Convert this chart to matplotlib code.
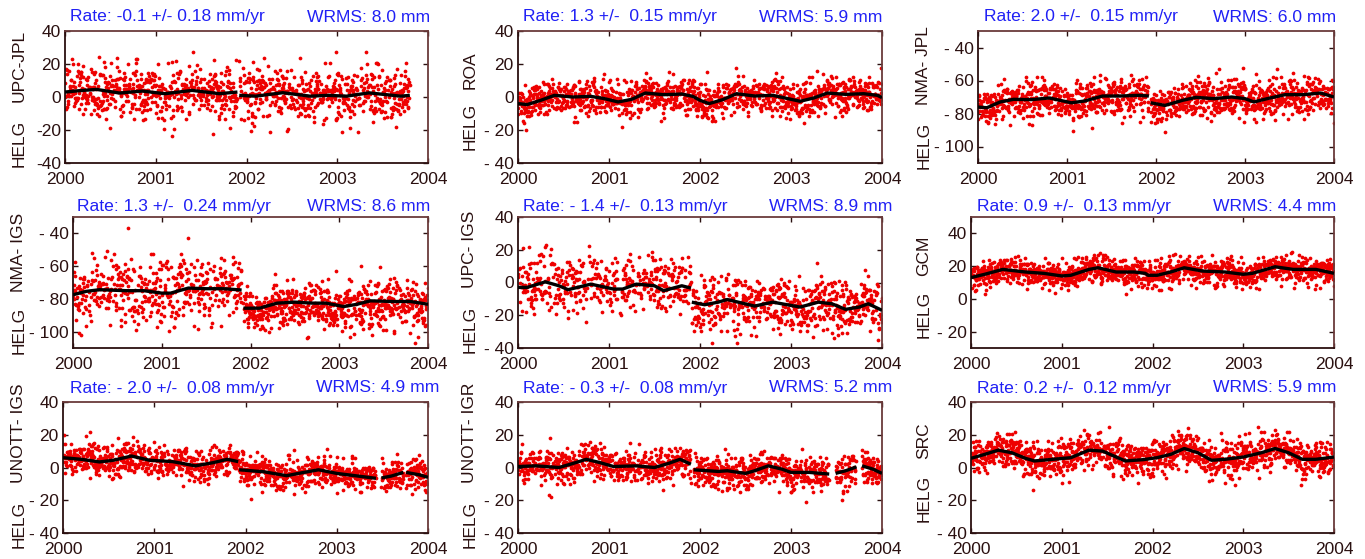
import numpy as np
import matplotlib
matplotlib.use("Agg")
import matplotlib.pyplot as plt

plt.rcParams['font.family'] = ['Liberation Sans', 'DejaVu Sans']

# ---------------- data ----------------
YEARS = [2000, 2001, 2002, 2003, 2004]
YEAR_LABELS = ["2000", "2001", "2002", "2003", "2004"]

NAMES = ["UPC-JPL", "ROA", "NMA- JPL", "NMA- IGS", "UPC- IGS", "GCM",
         "UNOTT- IGS", "UNOTT- IGR", "SRC"]
RATES = ["Rate: -0.1 +/- 0.18 mm/yr", "Rate: 1.3 +/-  0.15 mm/yr",
         "Rate: 2.0 +/-  0.15 mm/yr", "Rate: 1.3 +/-  0.24 mm/yr",
         "Rate: - 1.4 +/-  0.13 mm/yr", "Rate: 0.9 +/-  0.13 mm/yr",
         "Rate: - 2.0 +/-  0.08 mm/yr", "Rate: - 0.3 +/-  0.08 mm/yr",
         "Rate: 0.2 +/-  0.12 mm/yr"]
WRMS = ["WRMS: 8.0 mm", "WRMS: 5.9 mm", "WRMS: 6.0 mm", "WRMS: 8.6 mm",
        "WRMS: 8.9 mm", "WRMS: 4.4 mm", "WRMS: 4.9 mm", "WRMS: 5.2 mm",
        "WRMS: 5.9 mm"]

YLIMS = [(-40, 40), (-40, 40), (-110, -30), (-110, -30), (-40, 40),
         (-30, 50), (-40, 40), (-40, 40), (-40, 40)]
YTICKS = [[-40, -20, 0, 20, 40], [-40, -20, 0, 20, 40], [-100, -80, -60, -40],
          [-100, -80, -60, -40], [-40, -20, 0, 20, 40], [-20, 0, 20, 40],
          [-40, -20, 0, 20, 40], [-40, -20, 0, 20, 40], [-40, -20, 0, 20, 40]]
YTICKLABELS = [["-40", "-20", "0", "20", "40"],
               ["- 40", "- 20", "0", "20", "40"],
               ["- 100", "- 80", "- 60", "- 40"],
               ["- 100", "- 80", "- 60", "- 40"],
               ["- 40", "- 20", "0", "20", "40"],
               ["- 20", "0", "20", "40"],
               ["- 40", "- 20", "0", "20", "40"],
               ["- 40", "- 20", "0", "20", "40"],
               ["- 40", "- 20", "0", "20", "40"]]

# smoothed (black) curve, per panel, per continuous segment: epochs and values (mm)
P1_T = [[2000.0, 2000.15, 2000.35, 2000.6, 2000.85, 2001.1, 2001.4, 2001.7, 2001.9],
        [2001.92, 2002.1, 2002.4, 2002.7, 2002.9, 2003.1, 2003.35, 2003.7, 2003.8]]
P1_Y = [[3.0, 3.8, 4.6, 2.4, 3.6, 2.0, 4.0, 2.0, 3.0],
        [1.0, 0.5, 2.6, 0.5, 1.0, 0.5, 2.5, 0.5, 1.0]]
P2_T = [[2000.0, 2000.1, 2000.25, 2000.4, 2000.6, 2000.8, 2000.95, 2001.1, 2001.25,
         2001.4, 2001.6, 2001.8, 2001.92, 2002.0, 2002.1, 2002.25, 2002.4, 2002.6,
         2002.8, 2003.0, 2003.1, 2003.25, 2003.4, 2003.6, 2003.8, 2003.95, 2004.0]]
P2_Y = [[-4.0, -4.6, -2.0, 1.0, 0.0, 0.4, -1.0, -3.0, -1.4, 2.4, 1.4, 1.8, 0.4, -2.0,
         -4.0, -1.6, 2.0, 0.6, 1.0, -1.4, -2.6, -0.6, 2.4, 1.6, 2.0, 1.0, -0.4]]
P3_T = [[2000.0, 2000.1, 2000.25, 2000.4, 2000.6, 2000.8, 2001.05, 2001.2, 2001.4,
         2001.6, 2001.8, 2001.92],
        [2001.94, 2002.1, 2002.3, 2002.45, 2002.65, 2002.85, 2003.0, 2003.1, 2003.25,
         2003.45, 2003.65, 2003.85, 2004.0]]
P3_Y = [[-76.1, -76.5, -73.0, -71.4, -71.6, -70.6, -73.5, -72.4, -69.4, -69.4, -69.0, -69.4],
        [-73.5, -75.1, -72.0, -70.2, -71.0, -70.0, -71.0, -73.0, -71.0, -68.6, -68.6,
         -67.6, -70.0]]
P4_T = [[2000.0, 2000.15, 2000.3, 2000.6, 2000.8, 2001.0, 2001.1, 2001.3, 2001.5,
         2001.7, 2001.9],
        [2001.92, 2002.1, 2002.3, 2002.5, 2002.7, 2002.85, 2003.05, 2003.2, 2003.35,
         2003.6, 2003.8, 2004.0]]
P4_Y = [[-77.5, -75.4, -74.4, -75.0, -75.0, -76.5, -76.5, -73.4, -73.8, -73.8, -74.6],
        [-85.7, -85.7, -82.6, -82.0, -82.6, -82.6, -84.7, -83.3, -81.2, -81.6, -81.6, -83.3]]
P5_T = [[2000.0, 2000.1, 2000.3, 2000.45, 2000.55, 2000.8, 2001.05, 2001.15, 2001.3,
         2001.5, 2001.6, 2001.8, 2001.9],
        [2001.91, 2002.05, 2002.2, 2002.3, 2002.45, 2002.6, 2002.8, 2003.0, 2003.1,
         2003.3, 2003.45, 2003.6, 2003.75, 2003.85, 2004.0]]
P5_Y = [[-3.0, -3.0, 0.4, -2.0, -4.4, -1.0, -4.0, -4.0, -1.0, -2.0, -5.0, -2.0, -3.4],
        [-12.0, -13.6, -12.0, -10.4, -12.4, -14.4, -12.0, -14.0, -15.0, -12.0, -13.0,
         -16.4, -15.0, -13.0, -17.0]]
P6_T = [[2000.0, 2000.15, 2000.35, 2000.6, 2000.8, 2001.0, 2001.1, 2001.3, 2001.4,
         2001.6, 2001.8, 2001.92, 2001.95, 2002.05, 2002.2, 2002.35, 2002.55, 2002.8,
         2003.0, 2003.1, 2003.25, 2003.35, 2003.55, 2003.8, 2004.0]]
P6_Y = [[13.0, 15.0, 18.0, 16.4, 15.6, 14.0, 14.4, 18.0, 19.0, 16.4, 16.4, 15.6, 14.4,
         14.4, 16.4, 19.0, 17.0, 16.4, 15.0, 15.6, 18.0, 19.6, 18.0, 18.0, 15.6]]
P7_T = [[2000.0, 2000.2, 2000.4, 2000.55, 2000.75, 2000.95, 2001.2, 2001.45, 2001.65,
         2001.8, 2001.92],
        [2001.93, 2002.2, 2002.45, 2002.6, 2002.8, 2003.0, 2003.2, 2003.43],
        [2003.49, 2003.6, 2003.73],
        [2003.76, 2003.9, 2004.0]]
P7_Y = [[6.0, 5.0, 3.4, 4.4, 7.0, 4.4, 3.6, 1.0, 3.0, 5.0, 3.6],
        [-1.4, -2.6, -5.0, -3.4, -1.4, -3.6, -5.0, -6.6],
        [-6.4, -5.2, -3.0],
        [-3.0, -4.4, -6.0]]
P8_T = [[2000.0, 2000.2, 2000.45, 2000.6, 2000.75, 2000.9, 2001.05, 2001.3, 2001.5,
         2001.65, 2001.78, 2001.9],
        [2001.93, 2002.2, 2002.3, 2002.5, 2002.6, 2002.75, 2002.9, 2003.0, 2003.2, 2003.42],
        [2003.49, 2003.6, 2003.72],
        [2003.78, 2003.9, 2004.0]]
P8_Y = [[0.6, 1.0, 0.0, 2.4, 5.0, 3.0, 0.6, 1.0, 0.0, 2.4, 5.0, 2.0],
        [-1.4, -2.4, -2.0, -3.6, -2.0, 1.0, -1.0, -3.0, -3.0, -4.0],
        [-3.6, -2.0, 0.4],
        [1.0, -1.0, -3.6]]
P9_T = [[2000.0, 2000.15, 2000.3, 2000.45, 2000.6, 2000.7, 2000.9, 2001.1, 2001.3,
         2001.45, 2001.6, 2001.7, 2001.9, 2002.05, 2002.2, 2002.35, 2002.5, 2002.65,
         2002.8, 2003.0, 2003.2, 2003.35, 2003.5, 2003.65, 2003.8, 2004.0]]
P9_Y = [[5.6, 8.0, 10.6, 9.0, 5.6, 4.0, 5.0, 6.0, 10.6, 10.0, 6.4, 4.0, 4.8, 6.0, 8.0,
         11.6, 9.0, 4.4, 5.0, 6.4, 9.0, 11.6, 9.0, 5.0, 5.0, 6.4]]

CURVE_T = [P1_T, P2_T, P3_T, P4_T, P5_T, P6_T, P7_T, P8_T, P9_T]
CURVE_Y = [P1_Y, P2_Y, P3_Y, P4_Y, P5_Y, P6_Y, P7_Y, P8_Y, P9_Y]

# estimated spread (mm), centre offset and sampling density of the red daily points, per segment
SPREAD = [[8.0, 8.0], [5.5], [5.5, 5.5], [10.0, 7.0], [9.0, 8.5], [4.2],
          [4.8, 4.8, 4.8, 4.8], [5.0, 5.0, 5.0, 5.0], [5.5]]
OFFSET = [[0, 0], [0], [0, 0], [0, -1.5], [2.0, 0], [0], [0, 0, 0, 0], [0, 0, 0, 0], [0]]
DENSITY = [[0.75, 0.75], [0.85], [0.85, 0.85], [0.7, 0.85], [0.65, 0.75], [0.9],
           [0.85, 0.85, 0.85, 0.85], [0.85, 0.85, 0.85, 0.85], [0.9]]

# ---------------- layout (pixels) ----------------
W, H = 1365, 559
AX_BOX = [(65, 31, 428, 163), (518, 31, 882, 163), (978, 31, 1334, 163),
          (73, 217, 428, 348), (518, 217, 882, 348), (971, 217, 1334, 348),
          (63, 402, 428, 533), (518, 402, 882, 533), (971, 402, 1334, 533)]
TITLE_BASE = [21.5, 21.5, 21.5, 211, 211, 211, 392.5, 392.5, 392.5]
RATE_X = [70, 523, 984, 77, 523, 977, 70, 523, 977]
WRMS_X = [430, 882, 1336, 430, 892, 1336, 439, 892, 1336]
YL_X = [19, 470, 924, 19, 470, 924, 19, 470, 924]
HELG_Y = [143.3, 126.7, 145.8, 330, 329.2, 314.2, 524.2, 524.2, 498.3]
NAME_Y = [65.8, 70, 65.3, 252, 249.2, 255.8, 433.3, 433.3, 440.8]

DARK = '#2a1010'
BLUE = '#2020f5'
RED = '#ee0000'

fig = plt.figure(figsize=(W / 100, H / 100), dpi=100)
rng = np.random.default_rng(11)

for i in range(9):
    l, t, r, b = AX_BOX[i]
    ax = fig.add_axes([l / W, 1 - b / H, (r - l) / W, (b - t) / H])
    # points and curve
    for s, (ts, ys) in enumerate(zip(CURVE_T[i], CURVE_Y[i])):
        ep = np.arange(ts[0], ts[-1], 1 / 365.25)
        keep = rng.random(ep.size) < DENSITY[i][s]
        ep = ep[keep]
        base = np.interp(ep, ts, ys)
        pts = base + OFFSET[i][s] + SPREAD[i][s] * rng.standard_normal(ep.size)
        ax.plot(ep, pts, linestyle='none', marker='o', ms=2.7, mew=0,
                color=RED, zorder=2, clip_on=True)
    for ts, ys in zip(CURVE_T[i], CURVE_Y[i]):
        ax.plot(ts, ys, color='black', lw=2.4, zorder=3, solid_capstyle='butt')

    ax.set_xlim(2000, 2004)
    ax.set_ylim(*YLIMS[i])
    ax.set_xticks(YEARS)
    ax.set_xticklabels(YEAR_LABELS)
    ax.set_yticks(YTICKS[i])
    ax.set_yticklabels(YTICKLABELS[i])
    ax.tick_params(direction='in', length=3.5, width=1, color=DARK,
                   top=True, right=True, labelsize=12.5, labelcolor=DARK)
    ax.tick_params(axis='x', pad=6.5)
    ax.tick_params(axis='y', pad=3)
    for side in ['left', 'bottom']:
        ax.spines[side].set_color('#2b0f0f')
        ax.spines[side].set_linewidth(1.3)
    for side in ['top', 'right']:
        ax.spines[side].set_color('#6a3a3a')
        ax.spines[side].set_linewidth(1.3)

    # titles
    fig.text(RATE_X[i] / W, 1 - TITLE_BASE[i] / H, RATES[i], color=BLUE,
             fontsize=12.6, ha='left', va='baseline')
    fig.text(WRMS_X[i] / W, 1 - TITLE_BASE[i] / H, WRMS[i], color=BLUE,
             fontsize=12.6, ha='right', va='baseline')
    # y labels
    fig.text(YL_X[i] / W, 1 - HELG_Y[i] / H, "HELG", rotation=90, color=DARK,
             fontsize=12.5, ha='center', va='center')
    fig.text(YL_X[i] / W, 1 - NAME_Y[i] / H, NAMES[i], rotation=90, color=DARK,
             fontsize=12.5, ha='center', va='center')

fig.savefig('out.png', dpi=100, facecolor='white')
